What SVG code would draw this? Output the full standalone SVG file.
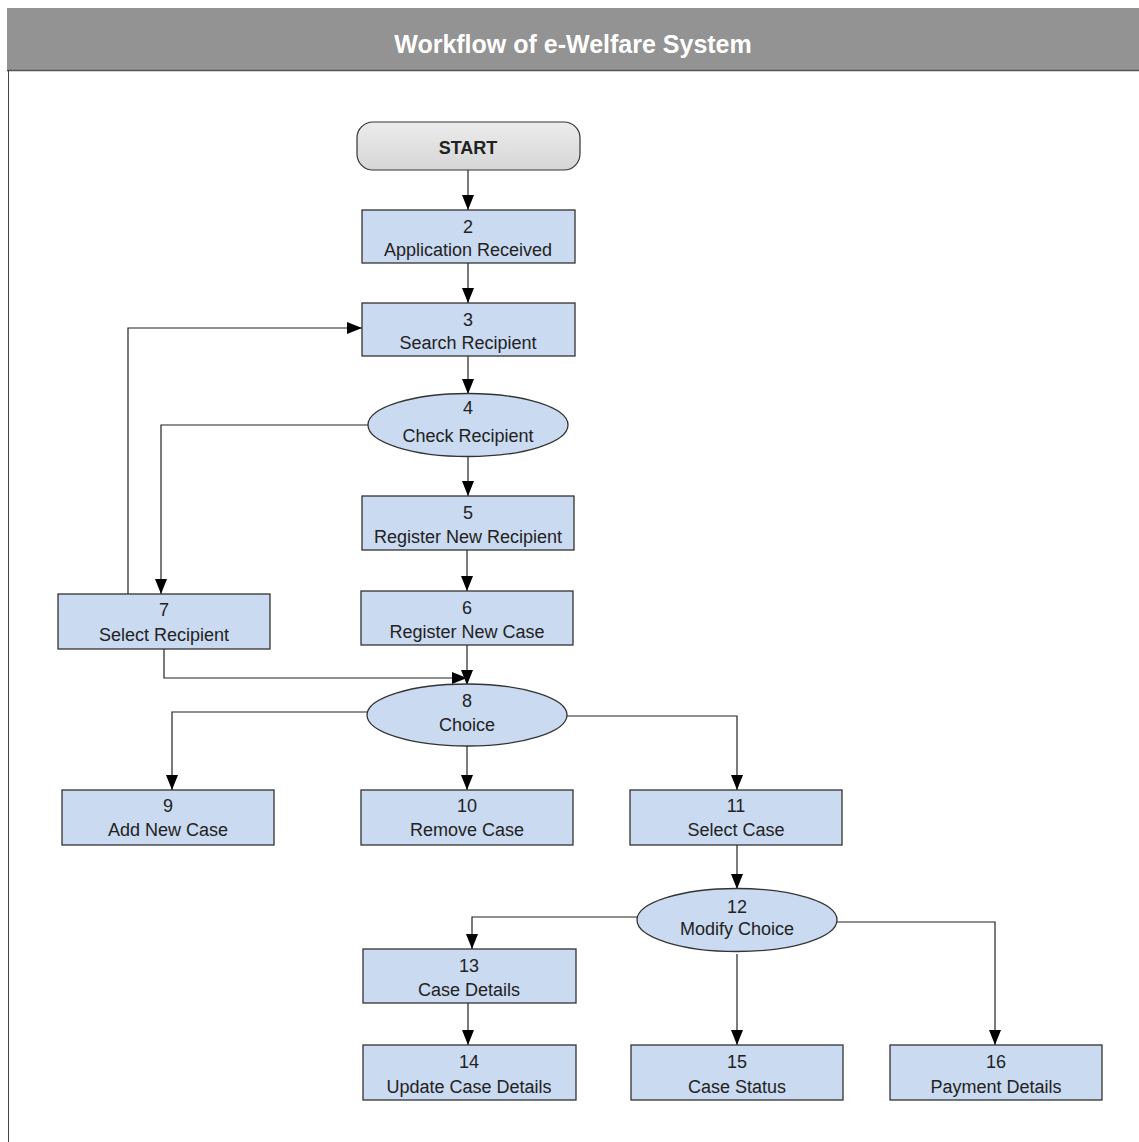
<svg xmlns="http://www.w3.org/2000/svg" width="1139" height="1142" viewBox="0 0 1139 1142">
<style>
.box{fill:#cadaf0;stroke:#333;stroke-width:1.3}
.t{font-family:"Liberation Sans",Arial,sans-serif;font-size:18px;fill:#222;text-anchor:middle}
.c{fill:none;stroke:#222;stroke-width:1.2;marker-end:url(#ah)}
</style>
<defs>
<marker id="ah" viewBox="0 0 15 12" refX="15" refY="6" markerWidth="15" markerHeight="12" markerUnits="userSpaceOnUse" orient="auto">
<path d="M0,0 L15,6 L0,12 Z" fill="#000"/>
</marker>
<linearGradient id="g" x1="0" y1="0" x2="0" y2="1">
<stop offset="0" stop-color="#ececec"/><stop offset="1" stop-color="#d6d6d6"/>
</linearGradient>
</defs>
<rect width="1139" height="1142" fill="#fff"/>
<g id="header">
<rect x="7" y="8" width="1132" height="62" fill="#939393"/>
<line x1="7" y1="70.5" x2="1139" y2="70.5" stroke="#555" stroke-width="1.5"/>
<line x1="8.5" y1="70" x2="8.5" y2="1142" stroke="#444" stroke-width="1"/>
<text x="573" y="53" font-family="'Liberation Sans',Arial,sans-serif" font-size="25" font-weight="bold" fill="#fff" text-anchor="middle">Workflow of e-Welfare System</text>
</g>
<g id="connectors">
<path class="c" d="M468,170 V210"/>
<path class="c" d="M468,263 V303"/>
<path class="c" d="M468,356 V394"/>
<path class="c" d="M468,457 V496"/>
<path class="c" d="M368,425 H161 V594"/>
<path class="c" d="M128,594 V328 H362"/>
<path class="c" d="M467,550 V591"/>
<path class="c" d="M467,645 V685"/>
<path class="c" d="M164,649 V678 H467"/>
<path class="c" d="M367,712 H172 V790"/>
<path class="c" d="M467,746 V790"/>
<path class="c" d="M567,716 H737 V790"/>
<path class="c" d="M737,845 V889"/>
<path class="c" d="M637,917 H472 V949"/>
<path class="c" d="M737,954 V1045"/>
<path class="c" d="M837,922 H995 V1045"/>
<path class="c" d="M468,1003 V1045"/>
</g>
<g id="n1"><rect x="357" y="122" width="223" height="48" rx="16" fill="url(#g)" stroke="#333" stroke-width="1.2"/><text class="t" x="468" y="154" font-weight="bold">START</text></g>
<g id="n2"><rect class="box" x="362" y="210" width="213" height="53"/><text class="t" x="468" y="233">2</text><text class="t" x="468" y="256">Application Received</text></g>
<g id="n3"><rect class="box" x="362" y="303" width="213" height="53"/><text class="t" x="468" y="326">3</text><text class="t" x="468" y="349">Search Recipient</text></g>
<g id="n4"><ellipse class="box" cx="468" cy="425" rx="100" ry="31.5"/><text class="t" x="468" y="414">4</text><text class="t" x="468" y="442">Check Recipient</text></g>
<g id="n5"><rect class="box" x="362" y="496" width="212" height="54"/><text class="t" x="468" y="519">5</text><text class="t" x="468" y="543">Register New Recipient</text></g>
<g id="n6"><rect class="box" x="361" y="591" width="212" height="54"/><text class="t" x="467" y="614">6</text><text class="t" x="467" y="638">Register New Case</text></g>
<g id="n7"><rect class="box" x="58" y="594" width="212" height="55"/><text class="t" x="164" y="616">7</text><text class="t" x="164" y="641">Select Recipient</text></g>
<g id="n8"><ellipse class="box" cx="467" cy="715" rx="100" ry="31"/><text class="t" x="467" y="707">8</text><text class="t" x="467" y="731">Choice</text></g>
<g id="n9"><rect class="box" x="62" y="790" width="212" height="55"/><text class="t" x="168" y="812">9</text><text class="t" x="168" y="836">Add New Case</text></g>
<g id="n10"><rect class="box" x="361" y="790" width="212" height="55"/><text class="t" x="467" y="812">10</text><text class="t" x="467" y="836">Remove Case</text></g>
<g id="n11"><rect class="box" x="630" y="790" width="212" height="55"/><text class="t" x="736" y="812">11</text><text class="t" x="736" y="836">Select Case</text></g>
<g id="n12"><ellipse class="box" cx="737" cy="920" rx="100" ry="31.5"/><text class="t" x="737" y="913">12</text><text class="t" x="737" y="935">Modify Choice</text></g>
<g id="n13"><rect class="box" x="363" y="949" width="213" height="54"/><text class="t" x="469" y="972">13</text><text class="t" x="469" y="996">Case Details</text></g>
<g id="n14"><rect class="box" x="363" y="1045" width="213" height="55"/><text class="t" x="469" y="1068">14</text><text class="t" x="469" y="1093">Update Case Details</text></g>
<g id="n15"><rect class="box" x="631" y="1045" width="212" height="55"/><text class="t" x="737" y="1068">15</text><text class="t" x="737" y="1093">Case Status</text></g>
<g id="n16"><rect class="box" x="890" y="1045" width="212" height="55"/><text class="t" x="996" y="1068">16</text><text class="t" x="996" y="1093">Payment Details</text></g>
</svg>
